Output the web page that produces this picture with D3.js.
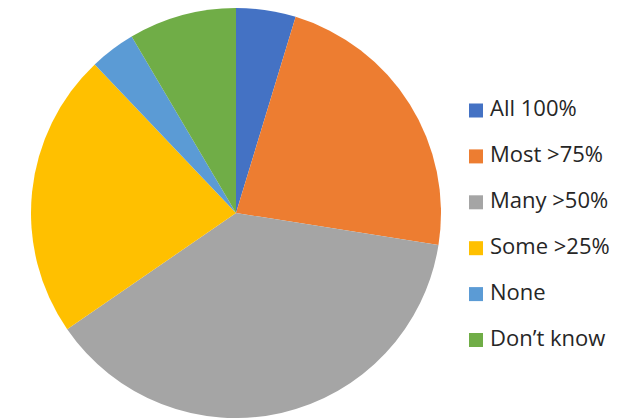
<!DOCTYPE html>
<html>
<head>
<meta charset="utf-8">
<script src="https://cdn.jsdelivr.net/npm/d3@7"></script>
<style>
  html, body { margin: 0; padding: 0; background: #fff; }
  svg { display: block; }
</style>
</head>
<body>
<svg id="chart" width="633" height="418"></svg>
<script>
// Share of respondents by answer (percent)
const categories = ["All 100%", "Most >75%", "Many >50%", "Some >25%", "None", "Don\u2019t know"];
const values = [4.7, 22.8, 37.9, 22.5, 3.6, 8.5];
const colors = ["#4472C4", "#ED7D31", "#A5A5A5", "#FFC000", "#5B9BD5", "#70AD47"];

const svg = d3.select("#chart");
const cx = 236, cy = 213, radius = 205;

const pie = d3.pie().sort(null).value(d => d.value);
const arc = d3.arc().innerRadius(0).outerRadius(radius);
const data = categories.map((c, i) => ({ name: c, value: values[i], color: colors[i] }));

svg.append("g")
  .attr("transform", `translate(${cx},${cy})`)
  .selectAll("path")
  .data(pie(data))
  .join("path")
  .attr("d", arc)
  .attr("fill", d => d.data.color);

// Legend
const legendY = d3.scalePoint().domain(categories).range([110.5, 340]);
const legend = svg.append("g")
  .selectAll("g")
  .data(data)
  .join("g")
  .attr("transform", d => `translate(469,${legendY(d.name)})`);

legend.append("rect")
  .attr("x", 0).attr("y", -7)
  .attr("width", 14).attr("height", 14)
  .attr("fill", d => d.color);

legend.append("text")
  .attr("x", 21).attr("y", 5.5)
  .attr("font-family", "'Open Sans', sans-serif")
  .attr("font-size", 22)
  .attr("fill", "#262626")
  .text(d => d.name);
</script>
</body>
</html>
